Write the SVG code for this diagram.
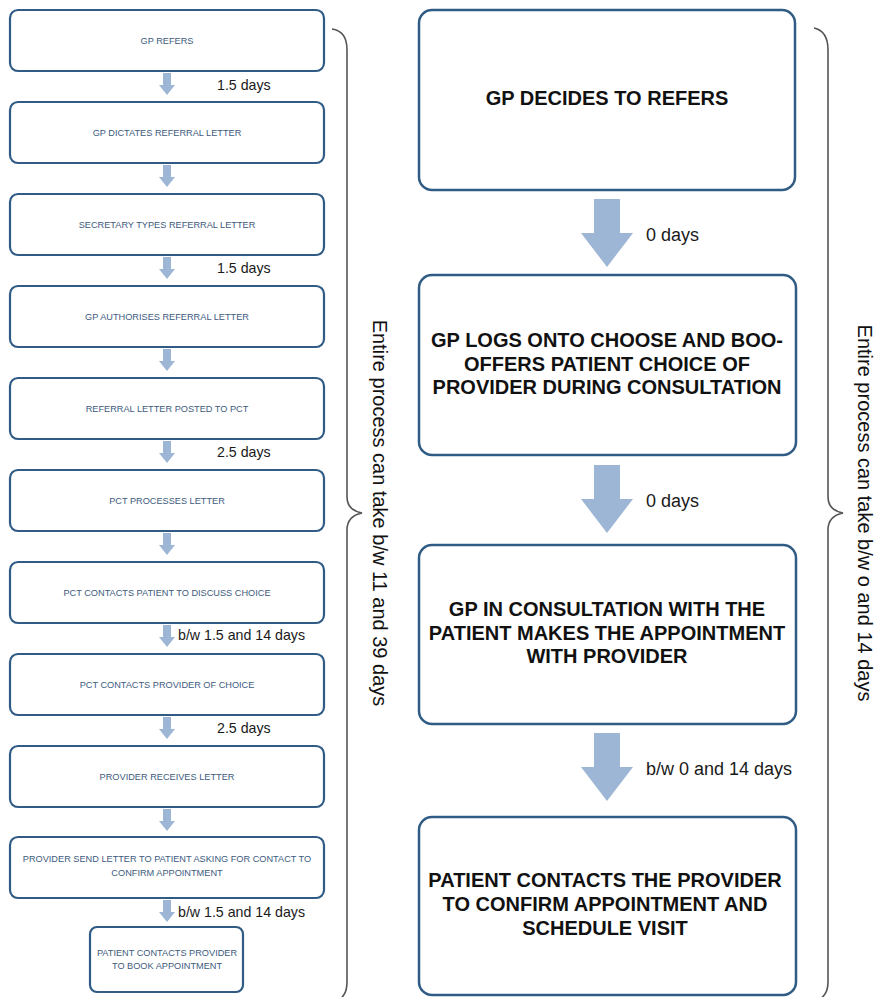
<svg xmlns="http://www.w3.org/2000/svg" width="876" height="997" viewBox="0 0 876 997">
<style>
.sbox{fill:#fff;stroke:#2f5b84;stroke-width:2.2}
.bbox{fill:#fff;stroke:#2f5b84;stroke-width:2.5}
.st{font-family:"Liberation Sans",Arial,sans-serif;font-size:9.2px;fill:#3d5b7e;text-anchor:middle}
.bt{font-family:"Liberation Sans",Arial,sans-serif;font-size:20px;font-weight:bold;fill:#111;text-anchor:middle}
.lbl{font-family:"Liberation Sans",Arial,sans-serif;font-size:14.2px;fill:#1a1a1a}
.lbl2{font-family:"Liberation Sans",Arial,sans-serif;font-size:18px;fill:#1a1a1a}
.arr{fill:#9db6d6}
.brace{fill:none;stroke:#555;stroke-width:1.6}
.rot{font-family:"Liberation Sans",Arial,sans-serif;font-size:20px;fill:#111;text-anchor:middle}
</style>
<defs>
<path id="sa" d="M-4,0 H4 V12 H8 L0,22 L-8,12 H-4 Z"/>
<path id="ba" d="M-13,0 H13 V34 H26 L0,68 L-26,34 H-13 Z"/>
</defs>

<g id="connectors">
<use href="#sa" class="arr" x="167" y="73"/>
<use href="#sa" class="arr" x="167" y="165"/>
<use href="#sa" class="arr" x="167" y="257"/>
<use href="#sa" class="arr" x="167" y="349"/>
<use href="#sa" class="arr" x="167" y="441"/>
<use href="#sa" class="arr" x="167" y="533"/>
<use href="#sa" class="arr" x="167" y="625"/>
<use href="#sa" class="arr" x="167" y="717"/>
<use href="#sa" class="arr" x="167" y="809"/>
<use href="#sa" class="arr" x="167" y="900"/>
<text class="lbl" x="217" y="90">1.5 days</text>
<text class="lbl" x="217" y="273">1.5 days</text>
<text class="lbl" x="217" y="457">2.5 days</text>
<text class="lbl" x="178" y="640">b/w 1.5 and 14 days</text>
<text class="lbl" x="217" y="733">2.5 days</text>
<text class="lbl" x="178" y="917">b/w 1.5 and 14 days</text>

<use href="#ba" class="arr" x="607" y="199"/>
<use href="#ba" class="arr" x="607" y="465"/>
<use href="#ba" class="arr" x="607" y="733"/>
<text class="lbl2" x="646" y="241">0 days</text>
<text class="lbl2" x="646" y="507">0 days</text>
<text class="lbl2" x="646" y="775">b/w 0 and 14 days</text>
</g>

<g id="node-gp-refers"><rect class="sbox" x="10" y="10" width="314" height="61" rx="8"/><text class="st" x="167" y="44">GP REFERS</text></g>
<g id="node-gp-dictates"><rect class="sbox" x="10" y="102" width="314" height="61" rx="8"/><text class="st" x="167" y="136">GP DICTATES REFERRAL LETTER</text></g>
<g id="node-secretary"><rect class="sbox" x="10" y="194" width="314" height="61" rx="8"/><text class="st" x="167" y="228">SECRETARY TYPES REFERRAL LETTER</text></g>
<g id="node-gp-authorises"><rect class="sbox" x="10" y="286" width="314" height="61" rx="8"/><text class="st" x="167" y="320">GP AUTHORISES REFERRAL LETTER</text></g>
<g id="node-posted"><rect class="sbox" x="10" y="378" width="314" height="61" rx="8"/><text class="st" x="167" y="412">REFERRAL LETTER POSTED TO PCT</text></g>
<g id="node-pct-processes"><rect class="sbox" x="10" y="470" width="314" height="61" rx="8"/><text class="st" x="167" y="504">PCT PROCESSES LETTER</text></g>
<g id="node-pct-patient"><rect class="sbox" x="10" y="562" width="314" height="61" rx="8"/><text class="st" x="167" y="596">PCT CONTACTS PATIENT TO DISCUSS CHOICE</text></g>
<g id="node-pct-provider"><rect class="sbox" x="10" y="654" width="314" height="61" rx="8"/><text class="st" x="167" y="688">PCT CONTACTS PROVIDER OF CHOICE</text></g>
<g id="node-provider-receives"><rect class="sbox" x="10" y="746" width="314" height="61" rx="8"/><text class="st" x="167" y="780">PROVIDER RECEIVES LETTER</text></g>
<g id="node-provider-send"><rect class="sbox" x="10" y="837" width="314" height="61" rx="8"/><text class="st" x="167" y="862">PROVIDER SEND LETTER TO PATIENT ASKING FOR CONTACT TO</text><text class="st" x="167" y="876">CONFIRM APPOINTMENT</text></g>
<g id="node-patient-book"><rect class="sbox" x="90" y="927" width="153" height="65" rx="7"/><text class="st" x="167" y="956">PATIENT CONTACTS PROVIDER</text><text class="st" x="167" y="969">TO BOOK APPOINTMENT</text></g>

<g id="node-gp-decides"><rect class="bbox" x="419" y="10" width="376" height="180" rx="13"/><text class="bt" x="607" y="105">GP DECIDES TO REFERS</text></g>
<g id="node-gp-logs"><rect class="bbox" x="419" y="275" width="377" height="180" rx="13"/><text class="bt" x="607" y="347">GP LOGS ONTO CHOOSE AND BOO-</text><text class="bt" x="607" y="371">OFFERS PATIENT CHOICE OF</text><text class="bt" x="607" y="394">PROVIDER DURING CONSULTATION</text></g>
<g id="node-gp-consult"><rect class="bbox" x="419" y="545" width="377" height="179" rx="13"/><text class="bt" x="607" y="616">GP IN CONSULTATION WITH THE</text><text class="bt" x="607" y="640">PATIENT MAKES THE APPOINTMENT</text><text class="bt" x="607" y="663">WITH PROVIDER</text></g>
<g id="node-patient-confirm"><rect class="bbox" x="419" y="817" width="377" height="178" rx="13"/><text class="bt" x="605" y="887">PATIENT CONTACTS THE PROVIDER</text><text class="bt" x="605" y="911">TO CONFIRM APPOINTMENT AND</text><text class="bt" x="605" y="935">SCHEDULE VISIT</text></g>

<g id="brace-left">
<path class="brace" d="M332,29 Q347,31 347,50 L347,497 Q347,510 362,513 Q347,516 347,530 L347,982 Q347,994 340,999"/>
<text class="rot" transform="translate(373,513) rotate(90)">Entire process can take b/w 11 and 39 days</text>
</g>
<g id="brace-right">
<path class="brace" d="M814,28 Q828,31 828,50 L828,497 Q828,510 843,513 Q828,516 828,530 L828,982 Q828,994 820,999"/>
<text class="rot" transform="translate(858,513) rotate(90)">Entire process can take b/w o and 14 days</text>
</g>
</svg>
